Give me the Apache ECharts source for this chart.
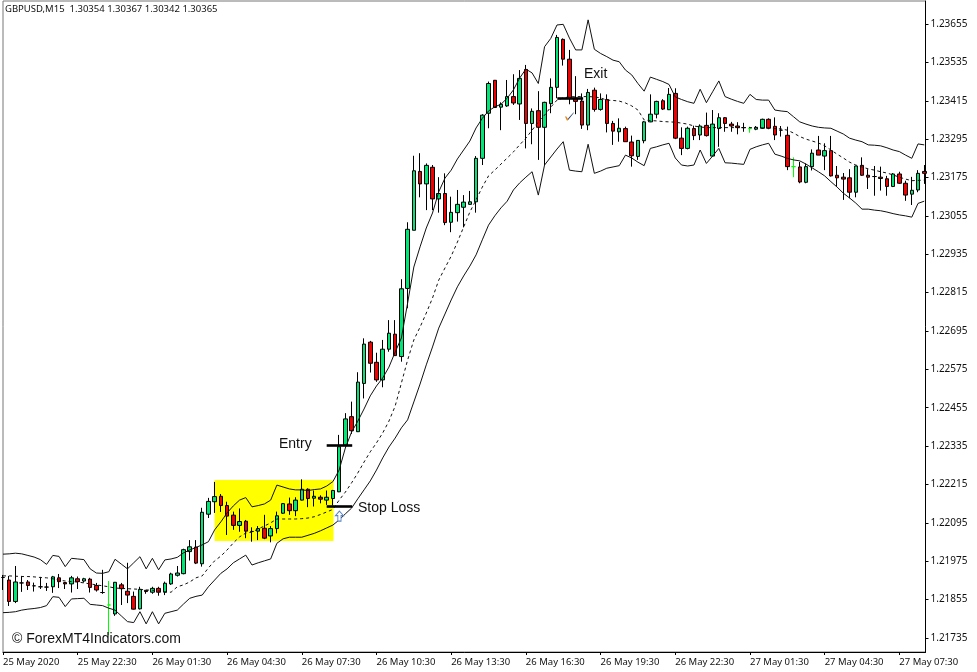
<!DOCTYPE html>
<html>
<head>
<meta charset="utf-8">
<style>html,body{margin:0;padding:0;background:#fff}#c{width:977px;height:672px}</style>
<script src="https://cdn.jsdelivr.net/npm/echarts@6/dist/echarts.min.js"></script>
</head>
<body>
<div id="c"></div>
<script>
const xTickLabels = ['25 May 2020','25 May 22:30','26 May 01:30','26 May 04:30','26 May 07:30','26 May 10:30','26 May 13:30','26 May 16:30','26 May 19:30','26 May 22:30','27 May 01:30','27 May 04:30','27 May 07:30'];
const xTickBars = [0,12,24,36,48,60,72,84,96,108,120,132,144];
const yTickValues = [1.21735,1.21855,1.21975,1.22095,1.22215,1.22335,1.22455,1.22575,1.22695,1.22815,1.22935,1.23055,1.23175,1.23295,1.23415,1.23535,1.23655];
const opens = [1.21924,1.21916,1.21849,1.21907,1.21910,1.21898,1.21895,1.21894,1.21895,1.21923,
1.21908,1.21904,1.21920,1.21913,1.21919,1.21899,1.21877,1.21838,1.21810,1.21901,
1.21881,1.21865,1.21826,1.21884,1.21878,1.21890,1.21878,1.21904,1.21931,1.21936,
1.22005,1.22019,1.21967,1.22122,1.22161,1.22178,1.22149,1.22119,1.22087,1.22100,
1.22068,1.22069,1.22078,1.22054,1.22077,1.22125,1.22154,1.22133,1.22166,1.22200,
1.22172,1.22175,1.22166,1.22171,1.22192,1.22338,1.22427,1.22380,1.22531,1.22660,
1.22597,1.22542,1.22638,1.22685,1.22615,1.22828,1.23010,1.23194,1.23155,1.23207,
1.23108,1.23125,1.23035,1.23065,1.23082,1.23091,1.23099,1.23235,1.23376,1.23479,
1.23395,1.23399,1.23428,1.23405,1.23513,1.23344,1.23384,1.23332,1.23406,1.23457,
1.23607,1.23545,1.23423,1.23414,1.23339,1.23448,1.23388,1.23419,1.23344,1.23318,
1.23328,1.23286,1.23241,1.23290,1.23349,1.23373,1.23415,1.23387,1.23438,1.23298,
1.23266,1.23328,1.23308,1.23338,1.23242,1.23328,1.23362,1.23342,1.23336,1.23331,
1.23328,1.23326,1.23329,1.23357,1.23335,1.23323,1.23307,1.23209,1.23208,1.23160,
1.23209,1.23261,1.23242,1.23259,1.23182,1.23176,1.23174,1.23129,1.23213,1.23182,
1.23178,1.23176,1.23171,1.23147,1.23186,1.23157,1.23123,1.23136,1.23194];
const closes = [1.21924,1.21849,1.21910,1.21907,1.21899,1.21898,1.21895,1.21894,1.21926,1.21911,
1.21904,1.21923,1.21911,1.21920,1.21893,1.21885,1.21877,1.21838,1.21909,1.21889,
1.21869,1.21825,1.21887,1.21880,1.21890,1.21878,1.21906,1.21935,1.21938,1.22011,
1.22020,1.21969,1.22128,1.22162,1.22177,1.22149,1.22116,1.22087,1.22099,1.22069,
1.22068,1.22077,1.22047,1.22077,1.22117,1.22155,1.22133,1.22166,1.22200,1.22171,
1.22178,1.22169,1.22175,1.22196,1.22333,1.22420,1.22383,1.22535,1.22654,1.22594,
1.22542,1.22638,1.22688,1.22618,1.22827,1.23013,1.23196,1.23155,1.23213,1.23108,
1.23125,1.23034,1.23066,1.23091,1.23098,1.23099,1.23235,1.23370,1.23469,1.23394,
1.23404,1.23428,1.23408,1.23485,1.23344,1.23382,1.23332,1.23410,1.23457,1.23613,
1.23545,1.23423,1.23413,1.23339,1.23441,1.23388,1.23419,1.23344,1.23320,1.23329,
1.23287,1.23243,1.23291,1.23349,1.23373,1.23413,1.23389,1.23435,1.23298,1.23266,
1.23329,1.23306,1.23336,1.23306,1.23342,1.23362,1.23344,1.23336,1.23331,1.23331,
1.23328,1.23332,1.23357,1.23329,1.23308,1.23323,1.23209,1.23209,1.23161,1.23209,
1.23251,1.23245,1.23259,1.23180,1.23174,1.23170,1.23129,1.23211,1.23182,1.23176,
1.23178,1.23172,1.23147,1.23186,1.23157,1.23120,1.23135,1.23188,1.23188];
const highs = [1.21932,1.21929,1.21960,1.21929,1.21916,1.21908,1.21926,1.21907,1.21929,1.21935,
1.21910,1.21929,1.21927,1.21923,1.21923,1.21907,1.21948,1.21913,1.21910,1.21907,
1.21970,1.21880,1.21895,1.21885,1.21895,1.21895,1.21911,1.21939,1.21960,1.22014,
1.22041,1.22041,1.22142,1.22173,1.22223,1.22185,1.22161,1.22130,1.22140,1.22104,
1.22081,1.22085,1.22120,1.22085,1.22130,1.22157,1.22174,1.22175,1.22231,1.22203,
1.22196,1.22181,1.22196,1.22198,1.22370,1.22438,1.22474,1.22566,1.22672,1.22664,
1.22627,1.22667,1.22729,1.22729,1.22857,1.23035,1.23243,1.23251,1.23219,1.23214,
1.23176,1.23188,1.23115,1.23136,1.23120,1.23133,1.23242,1.23373,1.23475,1.23480,
1.23410,1.23480,1.23498,1.23511,1.23527,1.23391,1.23445,1.23412,1.23485,1.23621,
1.23610,1.23574,1.23492,1.23438,1.23452,1.23456,1.23438,1.23435,1.23352,1.23360,
1.23334,1.23306,1.23292,1.23352,1.23435,1.23415,1.23420,1.23455,1.23454,1.23332,
1.23334,1.23337,1.23341,1.23378,1.23386,1.23376,1.23364,1.23349,1.23348,1.23346,
1.23334,1.23336,1.23359,1.23360,1.23363,1.23336,1.23334,1.23238,1.23224,1.23219,
1.23263,1.23305,1.23282,1.23305,1.23211,1.23189,1.23201,1.23212,1.23238,1.23201,
1.23211,1.23209,1.23180,1.23189,1.23193,1.23165,1.23177,1.23198,1.23214];
const lows = [1.21885,1.21835,1.21844,1.21879,1.21885,1.21880,1.21888,1.21882,1.21876,1.21891,
1.21888,1.21877,1.21888,1.21908,1.21877,1.21880,1.21873,1.21744,1.21804,1.21838,
1.21844,1.21824,1.21824,1.21873,1.21873,1.21867,1.21869,1.21901,1.21927,1.21934,
1.21977,1.21966,1.21958,1.22110,1.22126,1.22129,1.22057,1.22073,1.22067,1.22047,
1.22036,1.22041,1.22044,1.22034,1.22062,1.22123,1.22120,1.22116,1.22165,1.22144,
1.22146,1.22156,1.22151,1.22149,1.22191,1.22335,1.22373,1.22379,1.22484,1.22565,
1.22536,1.22519,1.22630,1.22617,1.22599,1.22766,1.23010,1.23113,1.23073,1.23073,
1.23065,1.23026,1.23004,1.23037,1.23019,1.23090,1.23065,1.23214,1.23329,1.23394,
1.23323,1.23396,1.23402,1.23355,1.23266,1.23279,1.23230,1.23214,1.23376,1.23423,
1.23525,1.23404,1.23373,1.23327,1.23323,1.23381,1.23384,1.23316,1.23277,1.23287,
1.23286,1.23209,1.23230,1.23282,1.23348,1.23360,1.23386,1.23386,1.23295,1.23245,
1.23263,1.23292,1.23292,1.23303,1.23241,1.23271,1.23318,1.23318,1.23310,1.23318,
1.23315,1.23323,1.23327,1.23326,1.23292,1.23303,1.23198,1.23176,1.23157,1.23157,
1.23197,1.23245,1.23198,1.23178,1.23146,1.23105,1.23110,1.23113,1.23180,1.23139,
1.23118,1.23134,1.23118,1.23145,1.23155,1.23102,1.23089,1.23129,1.23155];
const upperBand = [1.21997,1.21998,1.22000,1.21998,1.21993,1.21988,1.21980,1.21965,1.21993,1.21990,
1.21958,1.21984,1.21982,1.21980,1.21951,1.21938,1.21937,1.21942,1.21981,1.21966,
1.21951,1.21970,1.21989,1.21951,1.21984,1.21948,1.21979,1.21982,1.21987,1.22001,
1.22010,1.22018,1.22026,1.22036,1.22073,1.22098,1.22126,1.22148,1.22166,1.22174,
1.22145,1.22149,1.22154,1.22166,1.22213,1.22207,1.22201,1.22198,1.22198,1.22196,
1.22199,1.22201,1.22210,1.22224,1.22260,1.22329,1.22379,1.22413,1.22451,1.22492,
1.22523,1.22548,1.22582,1.22629,1.22673,1.22782,1.22895,1.22958,1.23017,1.23064,
1.23130,1.23173,1.23198,1.23233,1.23261,1.23289,1.23330,1.23360,1.23383,1.23396,
1.23404,1.23423,1.23449,1.23486,1.23514,1.23502,1.23469,1.23584,1.23610,1.23652,
1.23654,1.23611,1.23574,1.23574,1.23668,1.23576,1.23563,1.23553,1.23542,1.23537,
1.23511,1.23496,1.23469,1.23445,1.23489,1.23482,1.23475,1.23466,1.23427,1.23419,
1.23412,1.23407,1.23451,1.23409,1.23443,1.23477,1.23428,1.23420,1.23413,1.23407,
1.23435,1.23419,1.23417,1.23417,1.23386,1.23383,1.23381,1.23365,1.23349,1.23342,
1.23336,1.23332,1.23330,1.23329,1.23320,1.23311,1.23298,1.23292,1.23287,1.23277,
1.23276,1.23274,1.23268,1.23261,1.23256,1.23245,1.23235,1.23280,1.23277];
const middleBand = [1.21929,1.21929,1.21928,1.21927,1.21927,1.21926,1.21924,1.21923,1.21920,1.21916,
1.21913,1.21911,1.21910,1.21907,1.21904,1.21901,1.21898,1.21895,1.21891,1.21890,
1.21889,1.21888,1.21887,1.21885,1.21884,1.21882,1.21879,1.21878,1.21895,1.21901,
1.21910,1.21923,1.21929,1.21954,1.21976,1.21991,1.22010,1.22032,1.22051,1.22063,
1.22066,1.22076,1.22085,1.22095,1.22107,1.22107,1.22107,1.22107,1.22108,1.22110,
1.22114,1.22121,1.22129,1.22137,1.22166,1.22191,1.22220,1.22251,1.22285,1.22317,
1.22345,1.22376,1.22413,1.22460,1.22532,1.22604,1.22667,1.22707,1.22751,1.22798,
1.22854,1.22892,1.22929,1.22973,1.23020,1.23067,1.23105,1.23145,1.23180,1.23198,
1.23217,1.23236,1.23255,1.23277,1.23298,1.23323,1.23349,1.23370,1.23395,1.23417,
1.23424,1.23427,1.23428,1.23428,1.23428,1.23427,1.23424,1.23417,1.23416,1.23414,
1.23408,1.23399,1.23386,1.23355,1.23353,1.23352,1.23350,1.23349,1.23348,1.23345,
1.23342,1.23336,1.23333,1.23331,1.23331,1.23331,1.23331,1.23331,1.23331,1.23331,
1.23331,1.23331,1.23330,1.23330,1.23328,1.23327,1.23323,1.23314,1.23303,1.23295,
1.23289,1.23283,1.23274,1.23261,1.23248,1.23236,1.23223,1.23214,1.23208,1.23202,
1.23198,1.23193,1.23189,1.23183,1.23176,1.23170,1.23165,1.23166,1.23167];
const lowerBand = [1.21814,1.21815,1.21817,1.21822,1.21825,1.21827,1.21830,1.21836,1.21864,1.21862,
1.21833,1.21857,1.21858,1.21859,1.21840,1.21838,1.21836,1.21828,1.21822,1.21804,
1.21786,1.21783,1.21817,1.21779,1.21817,1.21779,1.21812,1.21817,1.21822,1.21841,
1.21859,1.21865,1.21869,1.21895,1.21916,1.21937,1.21951,1.21970,1.21982,1.21994,
1.21963,1.21970,1.21976,1.21982,1.22031,1.22045,1.22050,1.22050,1.22050,1.22056,
1.22062,1.22070,1.22079,1.22088,1.22104,1.22123,1.22141,1.22170,1.22198,1.22226,
1.22260,1.22298,1.22332,1.22360,1.22392,1.22417,1.22473,1.22529,1.22589,1.22645,
1.22704,1.22748,1.22792,1.22833,1.22867,1.22898,1.22933,1.22980,1.23026,1.23055,
1.23080,1.23101,1.23136,1.23158,1.23176,1.23193,1.23120,1.23214,1.23239,1.23264,
1.23287,1.23198,1.23195,1.23193,1.23279,1.23188,1.23195,1.23204,1.23208,1.23212,
1.23245,1.23236,1.23223,1.23212,1.23266,1.23271,1.23277,1.23282,1.23236,1.23214,
1.23211,1.23214,1.23261,1.23219,1.23242,1.23266,1.23221,1.23220,1.23218,1.23216,
1.23263,1.23271,1.23277,1.23282,1.23248,1.23242,1.23235,1.23230,1.23227,1.23217,
1.23205,1.23193,1.23180,1.23162,1.23145,1.23126,1.23111,1.23095,1.23076,1.23076,
1.23073,1.23071,1.23067,1.23062,1.23058,1.23055,1.23051,1.23094,1.23101];
const limeBars = [17,120,127];
const entryLine = [[52,1.22338],[56.1,1.22338]];
const stopLine = [[52,1.22146],[56.1,1.22146]];
const exitLine = [[89.05,1.23424],[93.2,1.23424]];
const highlightBox = [[34,1.22229],[53.1,1.22038]];
const arrowMark = [54.05,1.22116];
const checkMark = [91,1.23366];
const headerText = 'GBPUSD,M15  1.30354 1.30367 1.30342 1.30365';
const noteEntry = 'Entry', noteStop = 'Stop Loss', noteExit = 'Exit', copyright = '© ForexMT4Indicators.com';

const candleData = opens.map((o, i) => {
  const v = [i, o, closes[i], lows[i], highs[i]];
  return limeBars.includes(i)
    ? { value: v, itemStyle: { borderColor: '#00ff00', borderColor0: '#00ff00', borderColorDoji: '#00ff00' } }
    : { value: v };
});
const toLine = arr => arr.map((v, i) => [i, v]);
const band = (name, arr, dash) => ({
  name, type: 'line', data: toLine(arr), symbol: 'none', z: 4, silent: true,
  lineStyle: { color: '#111', width: 1, type: dash ? [3, 3] : 'solid' }
});
const segment = s => [{ coord: s[0] }, { coord: s[1] }];
const uiFont = 'Noto Sans';
const noteStyle = (x, y, text, size) => ({
  type: 'text', z: 20, silent: true,
  style: { x, y, text, fill: '#111', font: (size || 14) + 'px "Liberation Sans"', textVerticalAlign: 'middle' }
});

const chart = echarts.init(document.getElementById('c'), null, { renderer: 'canvas' });
chart.setOption({
  animation: false,
  backgroundColor: '#ffffff',
  grid: { left: 2.3, top: 1, right: 51.5, bottom: 20, show: true, borderColor: '#777', borderWidth: 1, backgroundColor: 'transparent' },
  xAxis: {
    type: 'value', min: 0, max: 148.2, splitLine: { show: false },
    axisLine: { show: true, onZero: false, lineStyle: { color: '#000', width: 1 } },
    axisTick: { show: true, length: 3, lineStyle: { color: '#000' }, customValues: xTickBars },
    axisLabel: {
      customValues: xTickBars, align: 'left', margin: 5, color: '#111', fontSize: 9.5, fontFamily: uiFont,
      formatter: v => xTickLabels[xTickBars.indexOf(v)] || ''
    }
  },
  yAxis: {
    type: 'value', position: 'right', min: 1.21691, max: 1.23727, splitLine: { show: false },
    axisLine: { show: true, onZero: false, lineStyle: { color: '#000', width: 1 } },
    axisTick: { show: true, length: 3, lineStyle: { color: '#000' }, customValues: yTickValues },
    axisLabel: {
      customValues: yTickValues, margin: 5, color: '#111', fontSize: 10, fontFamily: uiFont,
      formatter: v => v.toFixed(5)
    }
  },
  series: [
    {
      name: 'Highlight', type: 'line', data: [], z: 1, silent: true,
      markArea: { silent: true, itemStyle: { color: '#ffff00', opacity: 1 }, data: [[{ coord: highlightBox[0] }, { coord: highlightBox[1] }]] }
    },
    {
      name: 'GBPUSD', type: 'candlestick', z: 3, silent: true, barWidth: 4, data: candleData,
      itemStyle: { color: '#00e676', color0: '#f00000', borderColor: '#000', borderColor0: '#000', borderColorDoji: '#000', borderWidth: 1 }
    },
    band('Upper', upperBand, false),
    band('Middle', middleBand, true),
    band('Lower', lowerBand, false),
    {
      name: 'Levels', type: 'line', data: [], z: 6, silent: true,
      markLine: {
        silent: true, symbol: 'none', label: { show: false }, animation: false,
        lineStyle: { color: '#000', width: 2.6, type: 'solid' },
        data: [segment(entryLine), segment(stopLine), segment(exitLine)]
      }
    },
    {
      name: 'Arrow', type: 'scatter', z: 7, silent: true, data: [arrowMark],
      symbol: 'path://M5 0 L10 5 L7 5 L7 11 L3 11 L3 5 L0 5 Z', symbolSize: [8, 10],
      itemStyle: { color: '#ffffff', borderColor: '#5b84c4', borderWidth: 1, opacity: 1 }
    },
    {
      name: 'Check', type: 'scatter', z: 7, silent: true, data: [checkMark],
      symbol: 'path://M0 5 L1.5 5 L3 8 L9 0 L9.5 0.5 L3 10 L2 10 Z', symbolSize: [9, 8],
      itemStyle: {
        opacity: 1,
        color: { type: 'linear', x: 0, y: 0, x2: 1, y2: 0, colorStops: [
          { offset: 0, color: '#e08a1e' }, { offset: 0.38, color: '#e08a1e' },
          { offset: 0.4, color: '#20406e' }, { offset: 1, color: '#20406e' }
        ] }
      }
    }
  ],
  graphic: [
    noteStyle(279, 444.5, noteEntry),
    noteStyle(358, 508.5, noteStop),
    noteStyle(584, 74.5, noteExit),
    noteStyle(12, 639, copyright),
    { type: 'text', z: 20, silent: true, style: { x: 5, y: 9, text: headerText, fill: '#111', font: '9.5px "' + uiFont + '"', textVerticalAlign: 'middle' } }
  ]
});
</script>
</body>
</html>
